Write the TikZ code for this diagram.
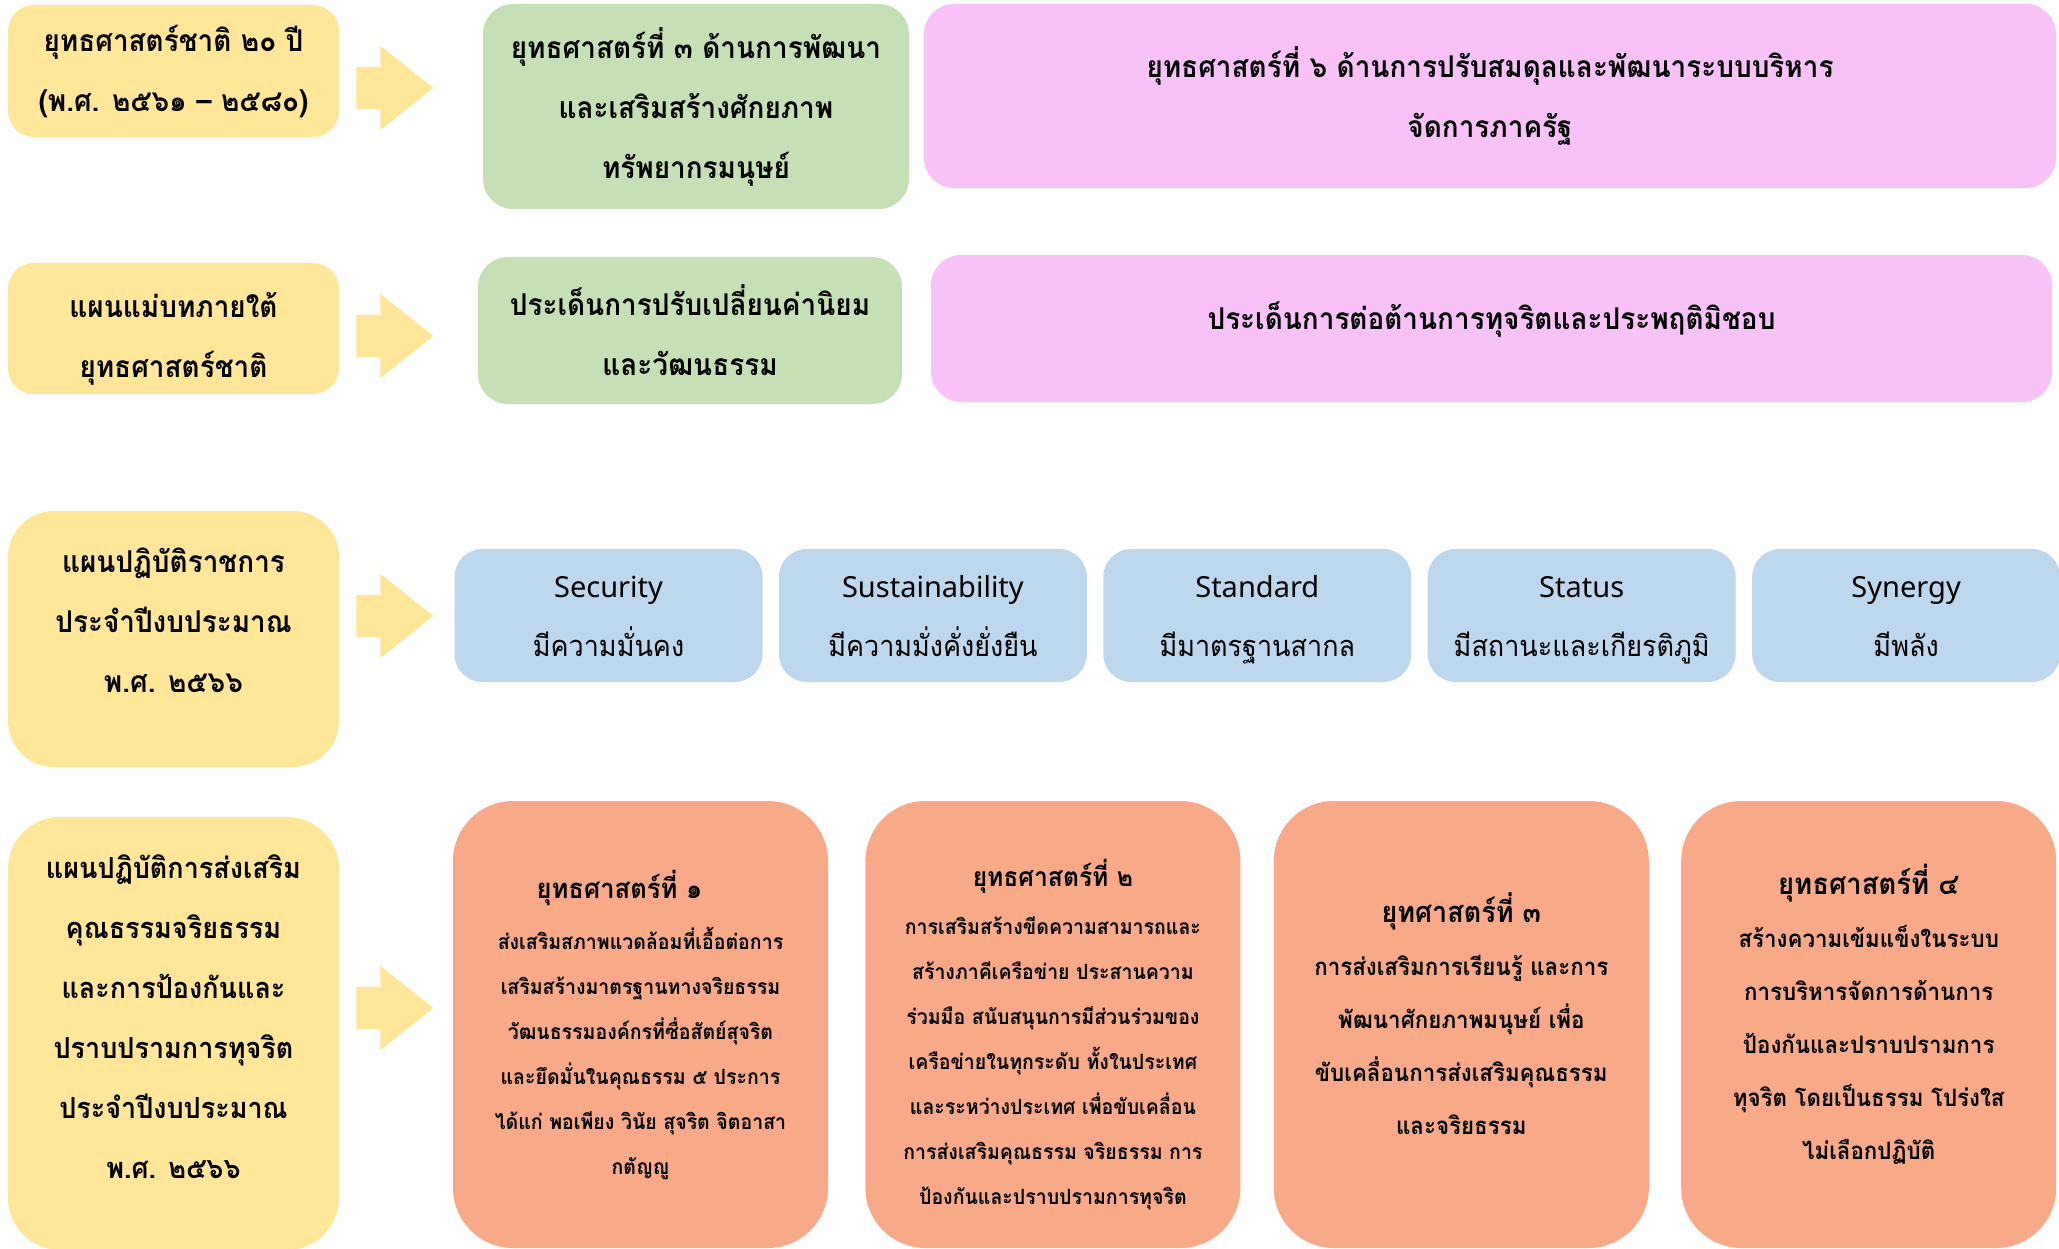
\documentclass[tikz,border=0pt]{standalone}
\usepackage{fontspec}
\setmainfont{Loma}
\newfontfamily\thaifont[Script=Thai, FakeStretch=0.93]{Loma}
\newfontfamily\latinfont{Noto Sans}
\usetikzlibrary{positioning, shapes.arrows}

\definecolor{planyellow}{HTML}{FFE699}
\definecolor{stratgreen}{HTML}{C5E0B4}
\definecolor{issuepink}{HTML}{F8C1F8}
\definecolor{goalblue}{HTML}{BDD7EE}
\definecolor{actorange}{HTML}{F8AA88}

\begin{document}
\begin{tikzpicture}[x=1pt, y=-1pt]
	\tikzset{
		box/.style={rectangle, rounded corners=#1, inner sep=0pt, align=center, text=black,
			font=\thaifont\bfseries\fontsize{30}{60}\selectfont},
		box/.default=26pt,
		planbox/.style={box=#1, fill=planyellow, minimum width=331pt},
		planbox/.default=26pt,
		greenbox/.style={box=30pt, fill=stratgreen},
		pinkbox/.style={box=30pt, fill=issuepink},
		goalbox/.style={box=28pt, fill=goalblue, minimum width=308pt, minimum height=133pt,
			font=\thaifont\fontsize{29}{59}\selectfont},
		actbox/.style={box=60pt, fill=actorange, minimum width=375pt, minimum height=447pt,
			font=\thaifont\bfseries\fontsize{21}{45}\selectfont},
		blockarrow/.style={single arrow, fill=planyellow, inner xsep=0pt, inner ysep=21pt,
			minimum height=77pt, single arrow head extend=21pt, single arrow tip angle=77,
			single arrow head indent=0pt}
	}
	\newcommand{\eng}[1]{{\latinfont\fontsize{29}{59}\selectfont #1}}
	\useasboundingbox (0,0) rectangle (2059,1249);

	% row 1
	\node[planbox, minimum height=132pt] (nat) at (173.5,71) {ยุทธศาสตร์ชาติ ๒๐ ปี\\(พ.ศ. ๒๕๖๑ – ๒๕๘๐)};
	\node[blockarrow] (a1) at (381.5,88) {};
	\node[greenbox, minimum width=426pt, minimum height=205pt] (st3) at (696,106.5) {ยุทธศาสตร์ที่ ๓ ด้านการพัฒนา\\และเสริมสร้างศักยภาพ\\ทรัพยากรมนุษย์};
	\node[pinkbox, minimum width=1132pt, minimum height=184pt] (st6) at (1490,96) {ยุทธศาสตร์ที่ ๖ ด้านการปรับสมดุลและพัฒนาระบบบริหาร\\จัดการภาครัฐ};

	% row 2
	\node[planbox, minimum height=131pt] (master) at (173.5,328.5) {\mbox{}\\[-15pt]แผนแม่บทภายใต้\\ยุทธศาสตร์ชาติ};
	\node[blockarrow] (a2) at (381.5,336) {};
	\node[greenbox, minimum width=424pt, minimum height=147pt] (values) at (690,330.5) {ประเด็นการปรับเปลี่ยนค่านิยม\\และวัฒนธรรม};
	\node[pinkbox, minimum width=1121pt, minimum height=147pt] (anticor) at (1491.5,328.5) {ประเด็นการต่อต้านการทุจริตและประพฤติมิชอบ\\[-34pt]\mbox{}};

	% row 3
	\node[planbox=46pt, minimum height=256pt] (gov) at (173.5,639) {แผนปฏิบัติราชการ\\ประจำปีงบประมาณ\\พ.ศ. ๒๕๖๖\\[-22pt]\mbox{}};
	\node[blockarrow] (a3) at (381.5,616) {};
	\node[goalbox] (sec) at (608.5,615.5) {\eng{Security}\strut\\มีความมั่นคง\strut};
	\node[goalbox, right=16pt of sec] (sus) {\eng{Sustainability}\strut\\มีความมั่งคั่งยั่งยืน\strut};
	\node[goalbox, right=16pt of sus] (std) {\eng{Standard}\strut\\มีมาตรฐานสากล\strut};
	\node[goalbox, right=16pt of std] (sta) {\eng{Status}\strut\\มีสถานะและเกียรติภูมิ\strut};
	\node[goalbox, right=16pt of sta] (syn) {\eng{Synergy}\strut\\มีพลัง\strut};

	% row 4
	\node[planbox=52pt, minimum height=433pt, font=\thaifont\bfseries\fontsize{29}{60}\selectfont] (ethic) at (173.5,1033.5) {แผนปฏิบัติการส่งเสริม\\คุณธรรมจริยธรรม\\และการป้องกันและ\\ปราบปรามการทุจริต\\ประจำปีงบประมาณ\\พ.ศ. ๒๕๖๖\\[-26pt]\mbox{}};
	\node[blockarrow] (a4) at (381.5,1008) {};
	\node[actbox] (e1) at (640.5,1024.5) {{\fontsize{27.5}{45}\selectfont ยุทธศาสตร์ที่ ๑\hspace*{42pt}}\\[6pt]ส่งเสริมสภาพแวดล้อมที่เอื้อต่อการ\\เสริมสร้างมาตรฐานทางจริยธรรม\\วัฒนธรรมองค์กรที่ซื่อสัตย์สุจริต\\และยึดมั่นในคุณธรรม ๕ ประการ\\ได้แก่ พอเพียง วินัย สุจริต จิตอาสา\\กตัญญู};
	\node[actbox, right=37pt of e1] (e2) {\mbox{}\\[2pt]{\fontsize{26.5}{45}\selectfont ยุทธศาสตร์ที่ ๒}\\[3pt]การเสริมสร้างขีดความสามารถและ\\สร้างภาคีเครือข่าย ประสานความ\\ร่วมมือ สนับสนุนการมีส่วนร่วมของ\\เครือข่ายในทุกระดับ ทั้งในประเทศ\\และระหว่างประเทศ เพื่อขับเคลื่อน\\การส่งเสริมคุณธรรม จริยธรรม การ\\ป้องกันและปราบปรามการทุจริต};
	\node[actbox, right=33pt of e2, font=\thaifont\bfseries\fontsize{24}{53}\selectfont] (e3) {{\fontsize{29}{53}\selectfont ยุทศาสตร์ที่ ๓}\\การส่งเสริมการเรียนรู้ และการ\\พัฒนาศักยภาพมนุษย์ เพื่อ\\ขับเคลื่อนการส่งเสริมคุณธรรม\\และจริยธรรม\\[-32pt]\mbox{}};
	\node[actbox, right=32pt of e3, font=\thaifont\bfseries\fontsize{24}{53}\selectfont] (e4) {{\fontsize{29.5}{53}\selectfont ยุทธศาสตร์ที่ ๔}\\สร้างความเข้มแข็งในระบบ\\การบริหารจัดการด้านการ\\ป้องกันและปราบปรามการ\\ทุจริต โดยเป็นธรรม โปร่งใส\\ไม่เลือกปฏิบัติ\\[-27pt]\mbox{}};
\end{tikzpicture}
\end{document}
